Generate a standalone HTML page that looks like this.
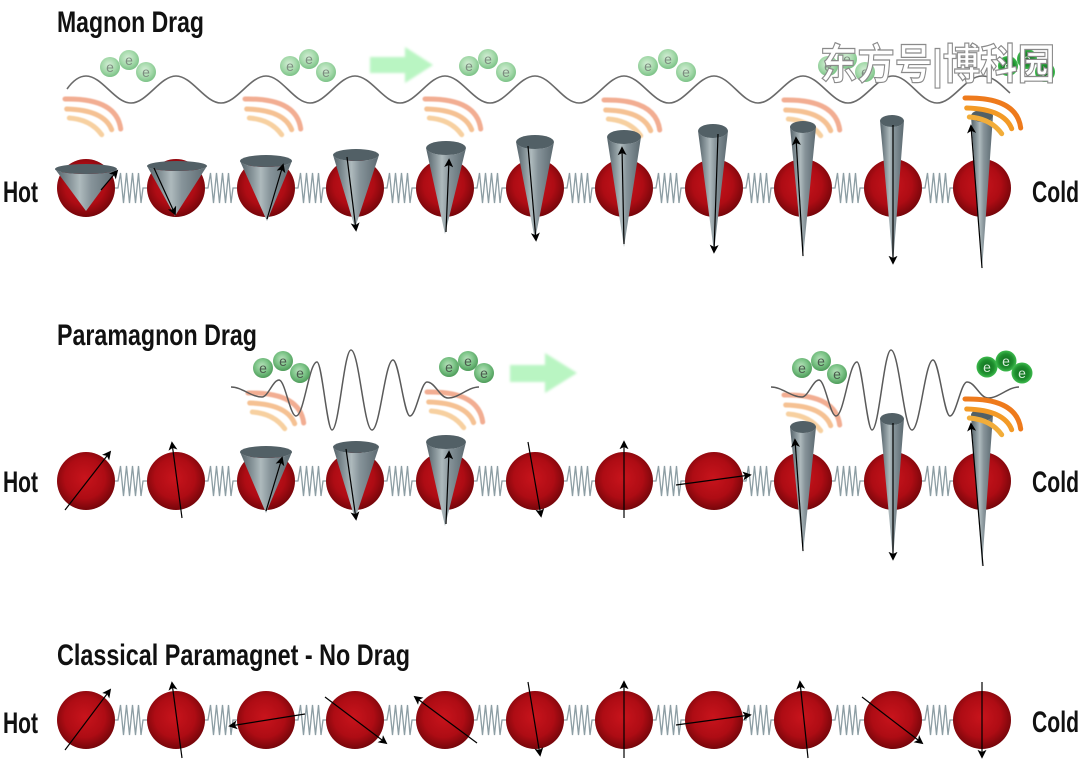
<!DOCTYPE html>
<html><head><meta charset="utf-8"><style>
html,body{margin:0;padding:0;background:#fff;}
svg{display:block;}
</style></head><body>
<svg width="1080" height="759" viewBox="0 0 1080 759" xmlns="http://www.w3.org/2000/svg">
<defs>
<radialGradient id="bg" cx="48%" cy="45%" r="58%">
<stop offset="0" stop-color="#c8141c"/><stop offset="0.6" stop-color="#ae0c14"/><stop offset="1" stop-color="#6e0509"/>
</radialGradient>
<linearGradient id="cg" x1="0" y1="0" x2="1" y2="0">
<stop offset="0" stop-color="#536168"/><stop offset="0.25" stop-color="#8a979c"/><stop offset="0.4" stop-color="#aebabd"/><stop offset="0.58" stop-color="#87949a"/><stop offset="1" stop-color="#5b6970"/>
</linearGradient>
<radialGradient id="eg1" cx="45%" cy="40%" r="60%">
<stop offset="0" stop-color="#d4eed6"/><stop offset="0.6" stop-color="#a4d9aa"/><stop offset="1" stop-color="#7cc287"/>
</radialGradient>
<radialGradient id="eg2" cx="45%" cy="40%" r="60%">
<stop offset="0" stop-color="#b8e2bc"/><stop offset="0.55" stop-color="#7cc487"/><stop offset="1" stop-color="#4e9c5a"/>
</radialGradient>
<radialGradient id="eg3" cx="50%" cy="50%" r="55%">
<stop offset="0" stop-color="#0e6a1c"/><stop offset="0.6" stop-color="#1e8f2e"/><stop offset="1" stop-color="#48c858"/>
</radialGradient>
<filter id="bl" x="-20%" y="-20%" width="140%" height="140%"><feGaussianBlur stdDeviation="1.2"/></filter>
<filter id="bl2" x="-20%" y="-20%" width="140%" height="140%"><feGaussianBlur stdDeviation="0.6"/></filter>
<marker id="ah" viewBox="0 0 10 10" refX="8" refY="5" markerWidth="9" markerHeight="9" markerUnits="userSpaceOnUse" orient="auto">
<path d="M0,0 L10,5 L0,10 L2.5,5z" fill="#000"/>
</marker>
<path id="spr" d="M0,0 H3 L5.5,-15 L8.5,15 L11.5,-15 L14.5,15 L17.5,-15 L20.5,15 L23.5,-15 L26,15 L28,0 H32" fill="none" stroke="#8d9ea4" stroke-width="1.3"/>
<circle id="ball" r="29" fill="url(#bg)"/>
<g id="arcsP" fill="none" stroke-width="5" stroke-linecap="round" filter="url(#bl2)">
<path d="M0,0 Q51.7,-1 55.7,30" stroke="#f2ad92"/>
<path d="M1.7,10 Q39,11 46.7,30.7" stroke="#f5c193"/>
<path d="M4.3,19 Q26,20.7 36.7,35.7" stroke="#f7d0a0"/>
</g>
<g id="arcsO" fill="none" stroke-width="5" stroke-linecap="round">
<path d="M0,0 Q51.7,-1 55.7,30" stroke="#ee7a1c"/>
<path d="M1.7,10 Q39,11 46.7,30.7" stroke="#f39a26"/>
<path d="M4.3,19 Q26,20.7 36.7,35.7" stroke="#f2ad3a"/>
</g>
</defs>

<rect width="1080" height="759" fill="#fff"/>

<!-- ================= ROW 1 : MAGNON DRAG ================= -->
<use href="#arcsP" x="65" y="99"/>
<use href="#arcsP" x="245" y="99"/>
<use href="#arcsP" x="425" y="99"/>
<use href="#arcsP" x="604" y="100"/>
<use href="#arcsP" x="784" y="100"/>

<path d="M67,89 C72,82 78,76 86,76 C102,76 115,103 131,103 C147,103 160,76 176,76 C192,76 205,103 221,103 C237,103 250,76 266,76 C282,76 294,103 310,103 C326,103 339,76 355,76 C371,76 384,103 400,103 C416,103 429,76 445,76 C461,76 474,103 490,103 C506,103 519,76 535,76 C551,76 563,103 579,103 C595,103 608,76 624,76 C640,76 653,103 669,103 C685,103 698,76 714,76 C730,76 742,103 758,103 C774,103 787,76 803,76 C819,76 832,103 848,103 C864,103 877,76 893,76 C909,76 921,103 937,103 C953,103 966,76 982,76 C994,76 1002,86 1010,93" fill="none" stroke="#6a6a6a" stroke-width="1.6"/>

<g font-family="Liberation Sans, sans-serif" font-size="14" text-anchor="middle">
<g fill="#7d8d80">
<circle cx="110" cy="67" r="10" fill="url(#eg1)"/><text x="110" y="72">e</text>
<circle cx="129" cy="60" r="10" fill="url(#eg1)"/><text x="129" y="65">e</text>
<circle cx="146" cy="72" r="10" fill="url(#eg1)"/><text x="146" y="77">e</text>
<circle cx="290" cy="66" r="10" fill="url(#eg1)"/><text x="290" y="71">e</text>
<circle cx="309" cy="59" r="10" fill="url(#eg1)"/><text x="309" y="64">e</text>
<circle cx="326" cy="72" r="10" fill="url(#eg1)"/><text x="326" y="77">e</text>
<circle cx="469" cy="66" r="10" fill="url(#eg1)"/><text x="469" y="71">e</text>
<circle cx="488" cy="59" r="10" fill="url(#eg1)"/><text x="488" y="64">e</text>
<circle cx="506" cy="72" r="10" fill="url(#eg1)"/><text x="506" y="77">e</text>
<circle cx="648" cy="66" r="10" fill="url(#eg1)"/><text x="648" y="71">e</text>
<circle cx="668" cy="59" r="10" fill="url(#eg1)"/><text x="668" y="64">e</text>
<circle cx="686" cy="72" r="10" fill="url(#eg1)"/><text x="686" y="77">e</text>
<circle cx="828" cy="66" r="10" fill="url(#eg1)"/><text x="828" y="71">e</text>
<circle cx="847" cy="59" r="10" fill="url(#eg1)"/><text x="847" y="64">e</text>
<circle cx="865" cy="72" r="10" fill="url(#eg1)"/><text x="865" y="77">e</text>
</g>
<g fill="#d8eedb">
<circle cx="1008" cy="66" r="10" fill="url(#eg3)"/><text x="1008" y="71">e</text>
<circle cx="1027" cy="59" r="10" fill="url(#eg3)"/><text x="1027" y="64">e</text>
<circle cx="1045" cy="72" r="10" fill="url(#eg3)"/><text x="1045" y="77">e</text>
</g>
</g>

<polygon points="370,57 405,57 405,47 433,65 405,83 405,73 370,73" fill="#b9f5c2" filter="url(#bl)"/>

<g>
<use href="#spr" x="115" y="188"/><use href="#spr" x="205" y="188"/><use href="#spr" x="295" y="188"/>
<use href="#spr" x="384" y="188"/><use href="#spr" x="474" y="188"/><use href="#spr" x="564" y="188"/>
<use href="#spr" x="653" y="188"/><use href="#spr" x="743" y="188"/><use href="#spr" x="832" y="188"/>
<use href="#spr" x="922" y="188"/>
</g>
<g>
<use href="#ball" x="86" y="188"/><use href="#ball" x="176" y="188"/><use href="#ball" x="266" y="188"/>
<use href="#ball" x="355" y="188"/><use href="#ball" x="445" y="188"/><use href="#ball" x="535" y="188"/>
<use href="#ball" x="624" y="188"/><use href="#ball" x="714" y="188"/><use href="#ball" x="803" y="188"/>
<use href="#ball" x="893" y="188"/><use href="#ball" x="982" y="188"/>
</g>

<g fill="url(#cg)">
<path d="M55,169 L86,211 L117,169 A31,5 0 0 1 55,169Z"/>
<path d="M147,166 L175,216 L207,166 A30,5 0 0 1 147,166Z"/>
<path d="M240,161 L267,221 L292,161 A26,6 0 0 1 240,161Z"/>
<path d="M333,155 L355,228 L379,155 A23,6 0 0 1 333,155Z"/>
<path d="M426,148 L445,234 L466,148 A20,7 0 0 1 426,148Z"/>
<path d="M516,142 L535,240 L554,142 A19,7 0 0 1 516,142Z"/>
<path d="M607,137 L624,247 L641,137 A17,7 0 0 1 607,137Z"/>
<path d="M698,131 L714,252 L728,131 A15,7 0 0 1 698,131Z"/>
<path d="M790,127 L803,258 L816,127 A13,6 0 0 1 790,127Z"/>
<path d="M880,121 L893,264 L904,121 A12,6 0 0 1 880,121Z"/>
<path d="M971,116 L982,270 L993,116 A11,6 0 0 1 971,116Z"/>
</g>
<g fill="#526066">
<ellipse cx="86" cy="169" rx="31" ry="5"/>
<ellipse cx="177" cy="166" rx="30" ry="5"/>
<ellipse cx="266" cy="161" rx="26" ry="6"/>
<ellipse cx="356" cy="155" rx="23" ry="6"/>
<ellipse cx="446" cy="148" rx="20" ry="7"/>
<ellipse cx="535" cy="142" rx="19" ry="7"/>
<ellipse cx="624" cy="137" rx="17" ry="7"/>
<ellipse cx="713" cy="131" rx="15" ry="7"/>
<ellipse cx="803" cy="127" rx="13" ry="6"/>
<ellipse cx="892" cy="121" rx="12" ry="6"/>
<ellipse cx="982" cy="116" rx="11" ry="6"/>
</g>
<g stroke="#000" stroke-width="1.2" marker-end="url(#ah)">
<line x1="101" y1="190" x2="117" y2="171"/>
<line x1="154" y1="168" x2="175" y2="214"/>
<line x1="267" y1="219" x2="283" y2="165"/>
<line x1="347" y1="157" x2="356" y2="230"/>
<line x1="446" y1="232" x2="449" y2="160"/>
<line x1="528" y1="146" x2="536" y2="240"/>
<line x1="624" y1="244" x2="622" y2="148"/>
<line x1="718" y1="134" x2="714" y2="252"/>
<line x1="803" y1="256" x2="796" y2="138"/>
<line x1="893" y1="125" x2="893" y2="263"/>
<line x1="982" y1="268" x2="971" y2="126"/>
</g>
<use href="#arcsO" x="965" y="98"/>

<!-- ================= ROW 2 : PARAMAGNON DRAG ================= -->
<use href="#arcsP" x="248" y="393"/>
<use href="#arcsP" x="427" y="392"/>
<use href="#arcsP" x="784" y="395"/>

<g fill="none" stroke="#5a5a5a" stroke-width="1.5">
<path d="M231,387 C242,387 251,397 262,397 C268,397 273,380 279,380 C285,380 290,416 296,416 C304,416 309,362 317,362 C322,362 327,430 332,430 C339,430 344,350 351,350 C359,350 364,430 372,430 C380,430 385,360 393,360 C399,360 404,416 410,416 C416,416 421,382 427,382 C435,382 440,398 448,398 C459,398 468,387 479,387"/>
<path d="M771,387 C782,387 791,397 802,397 C808,397 813,380 819,380 C825,380 830,416 836,416 C844,416 849,362 857,362 C862,362 867,430 872,430 C879,430 884,350 891,350 C899,350 904,430 912,430 C920,430 925,360 933,360 C939,360 944,416 950,416 C956,416 961,382 967,382 C975,382 980,398 988,398 C999,398 1008,387 1019,387"/>
</g>

<g font-family="Liberation Sans, sans-serif" font-size="14" text-anchor="middle">
<g fill="#4a5a4d">
<circle cx="263" cy="368" r="10" fill="url(#eg2)"/><text x="263" y="373">e</text>
<circle cx="283" cy="361" r="10" fill="url(#eg2)"/><text x="283" y="366">e</text>
<circle cx="300" cy="373" r="10" fill="url(#eg2)"/><text x="300" y="378">e</text>
<circle cx="449" cy="367" r="10" fill="url(#eg2)"/><text x="449" y="372">e</text>
<circle cx="468" cy="361" r="10" fill="url(#eg2)"/><text x="468" y="366">e</text>
<circle cx="484" cy="373" r="10" fill="url(#eg2)"/><text x="484" y="378">e</text>
<circle cx="802" cy="368" r="10" fill="url(#eg2)"/><text x="802" y="373">e</text>
<circle cx="821" cy="361" r="10" fill="url(#eg2)"/><text x="821" y="366">e</text>
<circle cx="837" cy="374" r="10" fill="url(#eg2)"/><text x="837" y="379">e</text>
</g>
<g fill="#d8eedb">
<circle cx="987" cy="367" r="10.5" fill="url(#eg3)"/><text x="987" y="372">e</text>
<circle cx="1006" cy="361" r="10.5" fill="url(#eg3)"/><text x="1006" y="366">e</text>
<circle cx="1022" cy="373" r="10.5" fill="url(#eg3)"/><text x="1022" y="378">e</text>
</g>
</g>

<polygon points="510,365 545,365 545,353 577,373 545,393 545,382 510,382" fill="#b9f5c2" filter="url(#bl)"/>

<g>
<use href="#spr" x="115" y="481"/><use href="#spr" x="205" y="481"/><use href="#spr" x="295" y="481"/>
<use href="#spr" x="384" y="481"/><use href="#spr" x="474" y="481"/><use href="#spr" x="564" y="481"/>
<use href="#spr" x="653" y="481"/><use href="#spr" x="743" y="481"/><use href="#spr" x="832" y="481"/>
<use href="#spr" x="922" y="481"/>
</g>
<g>
<use href="#ball" x="86" y="481"/><use href="#ball" x="176" y="481"/><use href="#ball" x="266" y="481"/>
<use href="#ball" x="355" y="481"/><use href="#ball" x="445" y="481"/><use href="#ball" x="535" y="481"/>
<use href="#ball" x="624" y="481"/><use href="#ball" x="714" y="481"/><use href="#ball" x="803" y="481"/>
<use href="#ball" x="893" y="481"/><use href="#ball" x="982" y="481"/>
</g>
<g fill="url(#cg)">
<path d="M240,452 L266,513 L292,452 A26,6 0 0 1 240,452Z"/>
<path d="M333,447 L355,519 L379,447 A23,6 0 0 1 333,447Z"/>
<path d="M426,442 L445,526 L466,442 A20,7 0 0 1 426,442Z"/>
<path d="M790,427 L803,553 L816,427 A13,6 0 0 1 790,427Z"/>
<path d="M880,419 L893,559 L904,419 A12,6 0 0 1 880,419Z"/>
<path d="M971,415 L982,567 L993,415 A11,6 0 0 1 971,415Z"/>
</g>
<g fill="#526066">
<ellipse cx="266" cy="452" rx="26" ry="6"/>
<ellipse cx="356" cy="447" rx="23" ry="6"/>
<ellipse cx="446" cy="442" rx="20" ry="7"/>
<ellipse cx="803" cy="427" rx="13" ry="6"/>
<ellipse cx="892" cy="419" rx="12" ry="6"/>
<ellipse cx="982" cy="415" rx="11" ry="6"/>
</g>
<g stroke="#000" stroke-width="1.2" marker-end="url(#ah)">
<line x1="65" y1="510" x2="110" y2="452"/>
<line x1="182" y1="518" x2="172" y2="443"/>
<line x1="266" y1="511" x2="282" y2="458"/>
<line x1="346" y1="449" x2="356" y2="519"/>
<line x1="446" y1="524" x2="449" y2="452"/>
<line x1="528" y1="442" x2="541" y2="516"/>
<line x1="624" y1="518" x2="624" y2="442"/>
<line x1="676" y1="485" x2="750" y2="475"/>
<line x1="803" y1="551" x2="795" y2="440"/>
<line x1="893" y1="423" x2="893" y2="559"/>
<line x1="983" y1="566" x2="971" y2="424"/>
</g>
<use href="#arcsO" x="965" y="399"/>

<!-- ================= ROW 3 : CLASSICAL ================= -->
<g>
<use href="#spr" x="115" y="720"/><use href="#spr" x="205" y="720"/><use href="#spr" x="295" y="720"/>
<use href="#spr" x="384" y="720"/><use href="#spr" x="474" y="720"/><use href="#spr" x="564" y="720"/>
<use href="#spr" x="653" y="720"/><use href="#spr" x="743" y="720"/><use href="#spr" x="832" y="720"/>
<use href="#spr" x="922" y="720"/>
</g>
<g>
<use href="#ball" x="86" y="720"/><use href="#ball" x="176" y="720"/><use href="#ball" x="266" y="720"/>
<use href="#ball" x="355" y="720"/><use href="#ball" x="445" y="720"/><use href="#ball" x="535" y="720"/>
<use href="#ball" x="624" y="720"/><use href="#ball" x="714" y="720"/><use href="#ball" x="803" y="720"/>
<use href="#ball" x="893" y="720"/><use href="#ball" x="982" y="720"/>
</g>
<g stroke="#000" stroke-width="1.2" marker-end="url(#ah)">
<line x1="65" y1="750" x2="110" y2="690"/>
<line x1="182" y1="758" x2="172" y2="683"/>
<line x1="305" y1="714" x2="230" y2="726"/>
<line x1="325" y1="697" x2="386" y2="743"/>
<line x1="477" y1="743" x2="415" y2="697"/>
<line x1="528" y1="682" x2="540" y2="755"/>
<line x1="624" y1="758" x2="624" y2="682"/>
<line x1="676" y1="725" x2="750" y2="715"/>
<line x1="808" y1="758" x2="800" y2="682"/>
<line x1="862" y1="697" x2="922" y2="743"/>
<line x1="982" y1="682" x2="982" y2="757"/>
</g>

<!-- ================= LABELS ================= -->
<g font-family="Liberation Sans, sans-serif" font-size="30" font-weight="bold" fill="#111">
<text x="57" y="32" textLength="147" lengthAdjust="spacingAndGlyphs">Magnon Drag</text>
<text x="57" y="345" textLength="200" lengthAdjust="spacingAndGlyphs">Paramagnon Drag</text>
<text x="57" y="665" textLength="353" lengthAdjust="spacingAndGlyphs">Classical Paramagnet - No Drag</text>
<text x="3" y="202" textLength="35" lengthAdjust="spacingAndGlyphs">Hot</text>
<text x="1032" y="202" textLength="47" lengthAdjust="spacingAndGlyphs">Cold</text>
<text x="3" y="492" textLength="35" lengthAdjust="spacingAndGlyphs">Hot</text>
<text x="1032" y="492" textLength="47" lengthAdjust="spacingAndGlyphs">Cold</text>
<text x="3" y="733" textLength="35" lengthAdjust="spacingAndGlyphs">Hot</text>
<text x="1032" y="732" textLength="47" lengthAdjust="spacingAndGlyphs">Cold</text>
</g>

<text x="820" y="79" font-family="Liberation Sans, 'Noto Sans CJK SC', sans-serif" font-weight="bold" font-size="42" fill="#ffffff" stroke="#8a8a8a" stroke-width="1.2" textLength="235" lengthAdjust="spacingAndGlyphs">东方号|博科园</text>
</svg>
</body></html>
